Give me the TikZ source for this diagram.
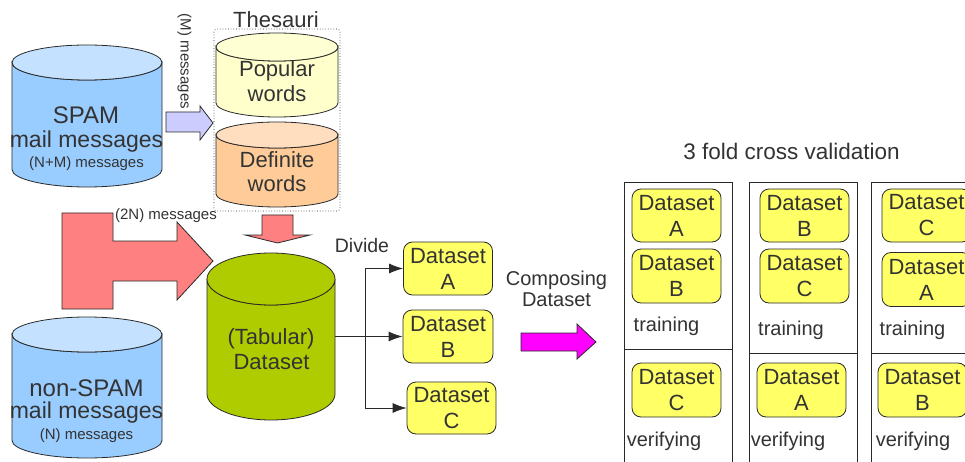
\documentclass[tikz,border=0pt]{standalone}
\usepackage{fontspec}
\setmainfont{Liberation Sans}
\usetikzlibrary{arrows.meta}

\definecolor{ink}{HTML}{333333}
\definecolor{edge}{HTML}{2A2A2A}
\definecolor{spambody}{HTML}{99CCFF}
\definecolor{spamtop}{HTML}{C4E2FF}
\definecolor{popbody}{HTML}{FFFFCC}
\definecolor{poptop}{HTML}{FFFFD4}
\definecolor{defbody}{HTML}{FFCC99}
\definecolor{deftop}{HTML}{FFDDBF}
\definecolor{tabgreen}{HTML}{AFCC00}
\definecolor{blockred}{HTML}{FF8080}
\definecolor{blocklilac}{HTML}{CCCCFF}
\definecolor{blockmagenta}{HTML}{FF00FF}
\definecolor{dsyellow}{HTML}{FFFF66}

% drum-shaped store: name, left, top, right, bottom, ellipse half height, body colour, lid colour
\newcommand\drumshape[8]{%
  \path[draw=edge, fill=#7, line width=0.8pt]
    (#2,#3+#6) -- (#2,#5-#6)
    arc[start angle=180, end angle=0, x radius={(#4-#2)/2}, y radius=#6]
    -- (#4,#3+#6)
    arc[start angle=0, end angle=180, x radius={(#4-#2)/2}, y radius=#6]
    -- cycle;
  \path[draw=edge, fill=#8, line width=0.8pt]
    ({(#2+#4)/2},{#3+#6}) ellipse [x radius={(#4-#2)/2}, y radius=#6];
  \node[inner sep=0pt, minimum width={(#4-#2)*1pt}, minimum height={(#5-#3)*1pt}]
    (#1) at ({(#2+#4)/2},{(#3+#5)/2}) {};
}

\tikzset{
  lbl/.style={text=ink, inner sep=0pt},
  big/.style={lbl, font=\fontsize{22}{26}\selectfont},
  huge/.style={lbl, font=\fontsize{24}{28}\selectfont},
  mid/.style={lbl, font=\fontsize{20}{24}\selectfont},
  small/.style={lbl, font=\fontsize{15}{18}\selectfont},
  dset/.style={draw=edge, fill=dsyellow, line width=0.8pt, rounded corners=9pt,
    minimum width=89pt, minimum height=53pt, inner sep=0pt, align=center,
    text=ink, font=\fontsize{22}{26}\selectfont},
  block/.style={draw=edge, line width=0.8pt, line join=miter},
  link/.style={draw=edge, line width=0.9pt, -{Latex[length=14pt,width=10pt]}},
  fold/.style={draw=edge, line width=0.9pt},
}

\begin{document}
\begin{tikzpicture}[x=1pt, y=-1pt]
\useasboundingbox (0,0) rectangle (965,462);
\clip (0,0) rectangle (965,462);
\fill[white] (0,0) rectangle (965,462);

% SPAM store
\drumshape{spam}{12}{45}{162}{187}{17.5}{spambody}{spamtop}
\node[huge] (spamA) at (86,115) {SPAM};
\node[lbl, font=\fontsize{23}{27}\selectfont] (spamB) at (86.5,142) {mail messages};
\node[small] (spamC) at (86.5,164) {(N+M) messages};

% non-SPAM store
\drumshape{ham}{12}{317}{162}{458}{17.5}{spambody}{spamtop}
\node[huge] (hamA) at (86.5,388) {non-SPAM};
\node[lbl, font=\fontsize{23}{27}\selectfont] (hamB) at (86.5,413) {mail messages};
\node[small] (hamC) at (86.5,435.5) {(N) messages};

% thesauri
\draw[edge, dotted, line width=0.7pt, rounded corners=3pt] (214,29) rectangle (340,211);
\node[big] (thes) at (276,20) {Thesauri};
\drumshape{popular}{216}{33}{338}{117}{14}{popbody}{poptop}
\node[big] (popA) at (277,71) {Popular};
\node[big] (popB) at (277,93.5) {words};
\drumshape{definite}{216}{122}{338}{207}{13}{defbody}{deftop}
\node[big] (defA) at (277,159.5) {Definite};
\node[big] (defB) at (277,183.5) {words};

% SPAM -> thesauri
\path[block, fill=blocklilac] (166,112) -- (200,112) -- (200,106) -- (213,123)
  -- (200,140) -- (200,132) -- (166,132) -- cycle;
\node[small, rotate=-90] (mmsg) at (184.5,61.5) {(M) messages};

% thesauri -> dataset
\path[block, fill=blockred] (262,215) -- (293,215) -- (293,235) -- (310,235)
  -- (277.5,243) -- (245,235) -- (262,235) -- cycle;

% both stores -> dataset
\path[block, fill=blockred] (62,213) -- (113,213) -- (113,241) -- (177,241)
  -- (177,222) -- (213,261) -- (177,300) -- (177,281) -- (113,281)
  -- (113,309) -- (62,309) -- cycle;
\node[small] (twon) at (166,216) {(2N) messages};

% tabular dataset
\drumshape{tab}{207}{253}{335}{420}{26}{tabgreen}{tabgreen}
\node[big] (tabA) at (271,339) {(Tabular)};
\node[big] (tabB) at (271.5,362.5) {Dataset};

% the three parts
\node[dset] (A) at (448,268.5) {Dataset\\A};
\node[dset, minimum width=90pt] (B) at (448,336.5) {Dataset\\B};
\node[dset, minimum height=52pt] (C) at (451.5,408) {Dataset\\C};
\node[lbl, font=\fontsize{19.5}{23}\selectfont] (divide) at (362,246) {Divide};

\coordinate (split) at ([xshift=30pt]tab.east);
\draw[link] (tab.east) -- (B.west);
\draw[link] (split) |- (A.west);
\draw[link] (split) |- (C.west);

% composing
\node[mid] (compA) at (556.5,280) {Composing};
\node[mid] (compB) at (556.5,300) {Dataset};
\path[block, fill=blockmagenta] (521,333) -- (577,333) -- (577,324) -- (596,342)
  -- (577,359) -- (577,351) -- (521,351) -- cycle;

% 3 fold cross validation
\node[lbl, font=\fontsize{22.5}{27}\selectfont] (cv) at (791.5,151) {3 fold cross validation};

\draw[fold] (624,470) -- (624,182) -- (732,182) -- (732,470);
\draw[fold] (624,349) -- (732,349);
\draw[fold] (749,470) -- (749,182) -- (857,182) -- (857,470);
\draw[fold] (749,353) -- (857,353);
\draw[fold] (871,470) -- (871,182) -- (980,182);
\draw[fold] (871,353) -- (980,353);

% fold 1
\node[dset] (f1a) at (676.5,215.5) {Dataset\\A};
\node[dset, minimum height=54pt] (f1b) at (676.5,276) {Dataset\\B};
\node[mid] (f1t) at (666.5,326) {training};
\node[dset, minimum height=54pt] (f1c) at (676.5,390) {Dataset\\C};
\node[mid] (f1v) at (664,441) {verifying};

% fold 2
\node[dset] (f2b) at (804.5,215.5) {Dataset\\B};
\node[dset, minimum height=54pt] (f2c) at (804.5,276) {Dataset\\C};
\node[mid] (f2t) at (791,330) {training};
\node[dset, minimum height=54pt] (f2a) at (801.5,390) {Dataset\\A};
\node[mid] (f2v) at (788,441) {verifying};

% fold 3
\node[dset] (f3c) at (926.5,215.5) {Dataset\\C};
\node[dset, minimum height=54pt] (f3a) at (926.5,279.5) {Dataset\\A};
\node[mid] (f3t) at (912.5,330) {training};
\node[dset, minimum height=54pt] (f3b) at (922.5,390) {Dataset\\B};
\node[mid] (f3v) at (913,441) {verifying};
\end{tikzpicture}
\end{document}
